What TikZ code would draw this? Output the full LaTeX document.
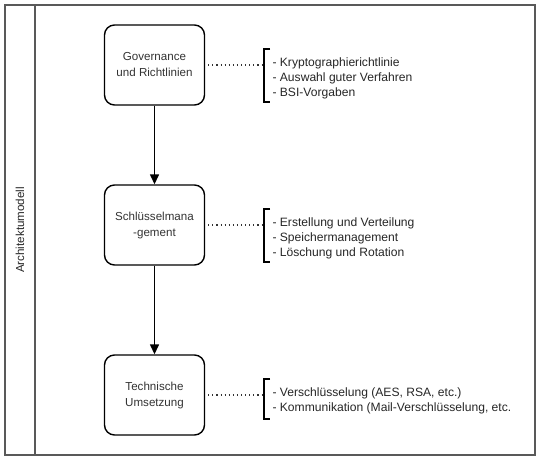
\documentclass[tikz,border=0pt]{standalone}
\usepackage{fontspec}
\setmainfont{Liberation Sans}
\usetikzlibrary{arrows.meta}
\begin{document}
\begin{tikzpicture}[x=1pt,y=-1pt,
  frame/.style={draw=black!65,line width=1.6pt},
  stage/.style={draw=black,line width=1.4pt,rounded corners=10pt,minimum width=100pt,minimum height=80pt,align=center,font=\fontsize{11.6}{16}\selectfont,text=black!80},
  flow/.style={draw=black,line width=1.4pt,-{Triangle[length=10pt,width=9pt]}},
  link/.style={draw=black!80,line width=1.1pt,dash pattern=on 1.1pt off 3pt},
  brk/.style={draw=black,line width=1.3pt},
  items/.style={anchor=west,align=left,font=\fontsize{12.1}{15}\selectfont,text=black!85}]
\useasboundingbox (0,0) rectangle (540,460);
\draw[frame] (5,5) rectangle (535,455);
\draw[frame] (35,5) -- (35,455);
\node[rotate=90,font=\fontsize{11.6}{14}\selectfont,text=black!85] (lane) at (20,230) {Architektumodell};

\node[stage] (g) at (154.5,65) {Governance\\und Richtlinien};
\node[stage] (s) at (154.5,225) {Schlüsselmana\\-gement};
\node[stage] (t) at (154.5,395) {Technische\\Umsetzung};

\draw[flow] (g) -- (s);
\draw[flow] (s) -- (t);

% bracket 1
\coordinate (b1m) at (262,65);
\draw[brk] (270,49) -- (264,49) -- (264,102) -- (270,102);
\draw[link] ([xshift=3pt]g.east) -- (b1m);
\node[items] (i1) at (269,78.5) {- Kryptographierichtlinie\\- Auswahl guter Verfahren\\- BSI-Vorgaben};

% bracket 2
\coordinate (b2m) at (262,225);
\draw[brk] (270,209) -- (264,209) -- (264,262) -- (270,262);
\draw[link] ([xshift=3pt]s.east) -- (b2m);
\node[items] (i2) at (269,238.5) {- Erstellung und Verteilung\\- Speichermanagement\\- Löschung und Rotation};

% bracket 3
\coordinate (b3m) at (262,395);
\draw[brk] (270,379) -- (264,379) -- (264,419) -- (270,419);
\draw[link] ([xshift=3pt]t.east) -- (b3m);
\node[items] (i3) at (269,401) {- Verschlüsselung (AES, RSA, etc.)\\- Kommunikation (Mail-Verschlüsselung, etc.};
\end{tikzpicture}
\end{document}
